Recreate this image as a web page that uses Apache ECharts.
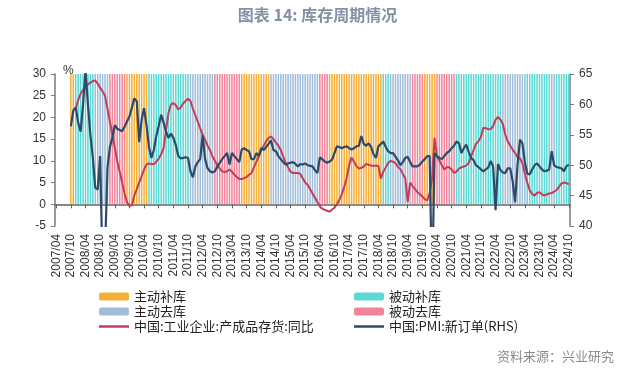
<!DOCTYPE html>
<html>
<head>
<meta charset="utf-8">
<script src="https://cdn.jsdelivr.net/npm/echarts@6/dist/echarts.min.js"></script>
<style>
html,body{margin:0;padding:0;background:#fff;}
#c{width:635px;height:368px;}
</style>
</head>
<body>
<div id="c"></div>
<script>
// ---- data ----
const startMonth = [2007, 4];
const endMonth = [2024, 10];
const categories = [];
for (let y = startMonth[0], m = startMonth[1]; y < endMonth[0] || (y === endMonth[0] && m <= endMonth[1]); ) {
  categories.push(y + '/' + (m < 10 ? '0' + m : '' + m));
  m++; if (m > 12) { m = 1; y++; }
}

const phaseNames = ['主动补库', '被动补库', '主动去库', '被动去库'];
const phaseColors = ['#F5AE37', '#5CD9D4', '#A1BDD9', '#F2849C'];
// [first month, last month, phase]
const phaseSegments = [
  ['2007/10', '2007/11', '主动补库'],
  ['2007/12', '2008/07', '被动补库'],
  ['2008/08', '2009/01', '主动去库'],
  ['2009/02', '2009/08', '被动去库'],
  ['2009/09', '2010/05', '主动补库'],
  ['2010/06', '2011/10', '被动补库'],
  ['2011/11', '2012/08', '主动去库'],
  ['2012/09', '2013/07', '被动去库'],
  ['2013/08', '2014/07', '主动补库'],
  ['2014/08', '2016/03', '主动去库'],
  ['2016/04', '2016/07', '被动去库'],
  ['2016/08', '2018/05', '主动补库'],
  ['2018/06', '2018/08', '被动补库'],
  ['2018/09', '2019/05', '主动去库'],
  ['2019/06', '2019/10', '被动去库'],
  ['2019/11', '2020/03', '主动补库'],
  ['2020/04', '2020/11', '被动去库'],
  ['2020/12', '2022/06', '被动补库'],
  ['2022/07', '2023/04', '主动去库'],
  ['2023/05', '2024/02', '被动补库'],
  ['2024/03', '2024/04', '主动去库'],
  ['2024/05', '2024/10', '被动补库']
];
const bandTop = 30;

// 中国:工业企业:产成品存货:同比 (%)
const inventoryYoY = [
  null,null,null,null,null,null,null,null,22,24,
  25.5,26.3,27,27.6,28,28.4,28.5,27.8,26.8,26,
  25,22,19,16,13,10,7.5,5,2.5,0.5,
  -0.4,-0.2,2,3.5,5,6.5,8,9.2,9.4,9.3,
  9.2,9.8,10.5,11.5,13,17,21,23,23.3,22.8,
  21.8,22.3,23.2,23.8,24.3,23.8,22,20.5,19,17.5,
  16,14.8,13.5,12.5,11,10,9,8.2,7.6,7.4,
  7.6,8,7.5,6.8,6.3,5.8,5.8,6,6.3,6.8,
  7.2,8.5,9.8,11,12.5,13.5,14.5,15.3,15.6,15,
  14.2,13.5,12.5,11,9.5,8.5,7.5,7.2,7.2,7.2,
  7,6,5,4.5,3.5,2.5,1.5,0.5,-0.5,-1,
  -1.3,-1.5,-1.7,-1.2,-0.8,0,1,2.3,4,6,
  9,10.8,9.8,8.8,8.2,8.4,8.7,9.3,9.1,8.9,
  8.9,8.9,8.9,5.9,7.5,8.5,9.5,10,9.8,9.5,
  8.6,8.1,7,6,0.5,5,4.2,3.5,2.8,2.3,
  1.8,1.2,0.9,2.5,6,15.3,11,10,9,8,
  8.5,8.5,8,7.2,7.5,8.2,8.5,8.7,8.9,9.5,
  11,12.5,13.9,14.5,15.5,17.6,17.5,17.3,17.3,18,
  19.5,20.1,19.5,18.5,16,14.5,13.5,12.6,11.8,10.8,
  10.6,9.5,7,5,3.2,2.4,2,2.6,2.8,2.3,
  2,2.3,2.5,2.6,2.9,3.3,4,4.8,5,4.9,4.6
];

// 中国:PMI:新订单 (RHS)
const pmiNewOrders = [
  null,null,null,null,null,null,56.4,59,59.5,57,
  55.5,60,65.5,60,55,51.2,46.3,46,51.5,33,
  36,49.5,53,54.5,56.6,56,55.8,55.6,56.3,57.2,
  58,59.5,61,60.5,53.8,57.5,59.4,56.5,53,51.2,
  52.5,54.8,56.5,58.3,57,55.5,54.5,55.2,54.5,53.3,
  51.5,51.1,51.2,51.3,51.2,49,48,49.8,50.5,51,
  55,51,49.5,49,48.8,49,49.8,50.4,51,51.5,
  52,50.1,52,51.5,51,50.5,52.6,52.8,52.5,52.3,
  51,51,52,51.5,52.8,52.5,53,53.5,54.1,52.5,
  52.3,51.5,51,50.5,50.1,50.3,50.4,50.5,50.2,49.8,
  50.2,50.1,50.3,50,49.9,49.8,49.2,48.7,51.3,51,
  50.6,50.4,50.6,50.9,52,53.1,53,52.8,53,53.1,
  52.8,52.6,52.8,53.1,53.2,54.8,53.5,53.2,53.6,53,
  51.8,51.2,53.1,53.5,53.9,53,52.3,52,52,51.4,
  50.8,50,50.5,51.2,51.4,50.5,49.8,49.8,49.8,50.1,
  50.6,51,51.5,51.5,29.3,52,51.5,51.2,51,51.5,
  52,52.3,52.8,53.2,53.9,53.6,52,52.8,53.4,52.2,
  51.2,50.8,50,49.7,49.3,49,49.3,49.6,50.7,49.8,
  42.6,50.2,49.2,48.8,48.7,49.5,49.5,47.4,43.9,50,
  54.2,53.6,50.5,48.6,48.5,49.3,50,50.3,49.8,49.3,
  49,49.1,49.3,52.3,50,49.7,49.6,49.5,49,49.8,50.1
];

const leftTicks = { min: -5, max: 30, interval: 5 };
const rightTicks = { min: 40, max: 65, interval: 5 };

const redName = '中国:工业企业:产成品存货:同比';
const blueName = '中国:PMI:新订单(RHS)';

// ---- build ----
const bandSeries = phaseNames.map((name, pi) => {
  const d = categories.map(() => '-');
  phaseSegments.forEach(s => {
    if (s[2] !== name) return;
    const a = categories.indexOf(s[0]), b = categories.indexOf(s[1]);
    for (let i = a; i <= b; i++) d[i] = bandTop;
  });
  return {
    name: name, type: 'bar', data: d, xAxisIndex: 0, yAxisIndex: 0,
    barWidth: '62%', barGap: '-100%', silent: true,
    itemStyle: { color: phaseColors[pi] }
  };
});

const lineIcon = 'path://M0,0H30V2.5H0Z';
const font = 'Noto Sans CJK SC';
const chart = echarts.init(document.getElementById('c'), null, { renderer: 'canvas' });
const axisGrey = '#7a7a7a';
chart.setOption({
  animation: false,
  textStyle: { fontFamily: font },
  title: [
    { text: '图表 14: 库存周期情况', left: 'center', top: 2,
      textStyle: { fontSize: 16, fontWeight: 'bold', color: '#8391A5', fontFamily: font } },
    { text: '资料来源：兴业研究', right: 16, top: 345,
      textStyle: { fontSize: 13, fontWeight: 'normal', color: '#8c8c8c', fontFamily: font } }
  ],
  grid: { left: 55, right: 65, top: 74, bottom: 142 },
  legend: [
    { orient: 'vertical', left: 94, top: 284, itemWidth: 30, itemHeight: 8, itemGap: 0,
      textStyle: { fontSize: 13, color: '#222', lineHeight: 15, fontFamily: font },
      data: ['主动补库', '主动去库', { name: redName, icon: lineIcon }] },
    { orient: 'vertical', left: 349, top: 284, itemWidth: 30, itemHeight: 8, itemGap: 0,
      textStyle: { fontSize: 13, color: '#222', lineHeight: 15, fontFamily: font },
      data: ['被动补库', '被动去库', { name: blueName, icon: lineIcon }] }
  ],
  xAxis: [
    { type: 'category', data: categories, boundaryGap: true, position: 'bottom',
      axisLine: { show: false, onZero: false }, axisTick: { show: false },
      axisLabel: { interval: 5, rotate: 90, margin: 8, fontSize: 12, color: '#333', fontFamily: 'Liberation Sans' } },
    { type: 'category', data: categories, boundaryGap: true, position: 'bottom',
      axisLine: { show: true, onZero: true, onZeroAxisIndex: 0, lineStyle: { color: '#606060', width: 1.5 } },
      axisTick: { show: true, interval: 5, alignWithLabel: true, length: 4, inside: false, lineStyle: { color: '#606060' } },
      axisLabel: { show: false, interval: 5 } }
  ],
  yAxis: [
    { type: 'value', min: leftTicks.min, max: leftTicks.max, interval: leftTicks.interval, position: 'left',
      name: '%', nameLocation: 'end', nameGap: 3,
      nameTextStyle: { align: 'left', verticalAlign: 'middle', padding: [0, 0, 0, 8], fontSize: 12, color: '#333', fontFamily: 'Liberation Sans' },
      axisLine: { show: true, lineStyle: { color: axisGrey, width: 1.5 } },
      axisTick: { show: true, length: 4, lineStyle: { color: axisGrey } },
      splitLine: { show: false },
      axisLabel: { fontSize: 12, color: '#333', margin: 9, fontFamily: 'Liberation Sans' } },
    { type: 'value', min: rightTicks.min, max: rightTicks.max, interval: rightTicks.interval, position: 'right',
      axisLine: { show: true, lineStyle: { color: axisGrey, width: 1.5 } },
      axisTick: { show: true, length: 4, lineStyle: { color: axisGrey } },
      splitLine: { show: false },
      axisLabel: { fontSize: 12, color: '#333', margin: 9, fontFamily: 'Liberation Sans' } }
  ],
  series: bandSeries.concat([
    { name: redName, type: 'line', data: inventoryYoY, xAxisIndex: 0, yAxisIndex: 0,
      symbol: 'none', connectNulls: false, clip: true,
      lineStyle: { color: '#C23D5C', width: 2 }, itemStyle: { color: '#C23D5C' } },
    { name: blueName, type: 'line', data: pmiNewOrders, xAxisIndex: 0, yAxisIndex: 1,
      symbol: 'none', connectNulls: false, clip: true,
      lineStyle: { color: '#2E4A6A', width: 2.2 }, itemStyle: { color: '#2E4A6A' } }
  ])
});
</script>
</body>
</html>
